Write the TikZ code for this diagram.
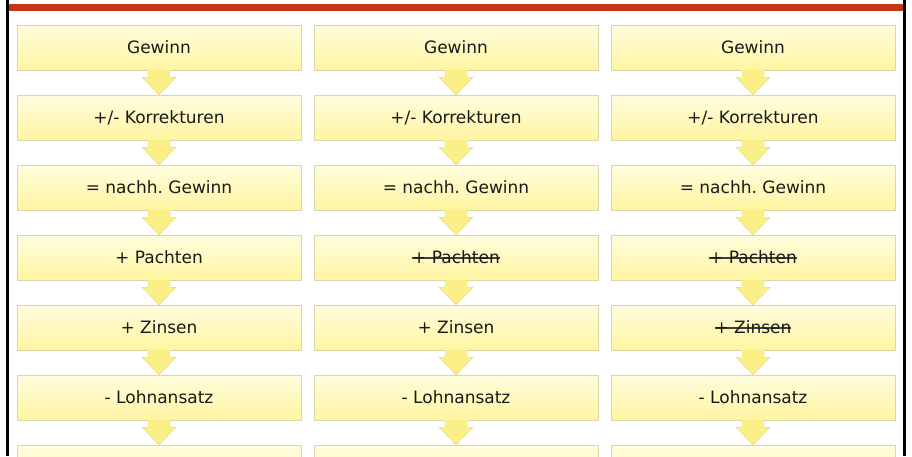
\documentclass[tikz,border=0pt]{standalone}
\usepackage{fontspec}
\setmainfont{DejaVu Sans}
\usetikzlibrary{calc}

\definecolor{barred}{RGB}{196,56,22}
\definecolor{boxtop}{RGB}{255,253,222}
\definecolor{boxbottom}{RGB}{255,245,160}
\definecolor{boxline}{RGB}{218,214,172}
\definecolor{arrowfill}{RGB}{250,240,135}
\definecolor{arrowline}{RGB}{225,215,120}

\tikzset{
  stepbox/.style={draw=boxline, top color=boxtop, bottom color=boxbottom,
    minimum width=284pt, minimum height=45pt, inner sep=0pt,
    text=black!90, font=\fontsize{17}{20}\selectfont},
  flowarrow/.style={draw=arrowline, fill=arrowfill, line join=miter},
}

% crossed-out text
\newcommand{\struck}[1]{\setbox0\hbox{#1}\rlap{\color{black!75}\rule[0.3em]{\wd0}{1.6pt}}\box0}

% block arrow from box #1 down to box #2
\newcommand{\flowarrow}[2]{%
  \draw[flowarrow] ($(#1.south)+(-11,0)$) -- ($(#1.south)+(-11,7)$)
    -- ($(#1.south)+(-17,7)$) -- (#2.north) -- ($(#1.south)+(17,7)$)
    -- ($(#1.south)+(11,7)$) -- ($(#1.south)+(11,0)$);}

\begin{document}
\begin{tikzpicture}[x=1pt,y=-1pt]
  \useasboundingbox (0,0) rectangle (912,456);
  \clip (0,0) rectangle (912,456);

  %frame and title bar
  \fill[barred] (9,4) rectangle (903,10.5);
  \draw[line width=2.5pt] (7.5,0) -- (7.5,456);
  \draw[line width=2.5pt] (904.5,0) -- (904.5,456);

  %three columns of steps
  \foreach \c/\x/\pa/\zi in {1/159/{+ Pachten}/{+ Zinsen},
      2/456/{\struck{+ Pachten}}/{+ Zinsen},
      3/753/{\struck{+ Pachten}}/{\struck{+ Zinsen}}} {
    \node[stepbox] (b\c1) at (\x,47.5) {Gewinn};
    \node[stepbox] (b\c2) at (\x,117.5) {+/- Korrekturen};
    \node[stepbox] (b\c3) at (\x,187.5) {= nachh.\ Gewinn};
    \node[stepbox] (b\c4) at (\x,257.5) {\pa};
    \node[stepbox] (b\c5) at (\x,327.5) {\zi};
    \node[stepbox] (b\c6) at (\x,397.5) {- Lohnansatz};
    \node[stepbox] (b\c7) at (\x,467.5) {};
  }

  %arrows between steps
  \foreach \c in {1,2,3} {
    \foreach \r in {1,...,6} {
      \pgfmathtruncatemacro{\n}{\r+1}
      \flowarrow{b\c\r}{b\c\n}
    }
  }
\end{tikzpicture}
\end{document}
